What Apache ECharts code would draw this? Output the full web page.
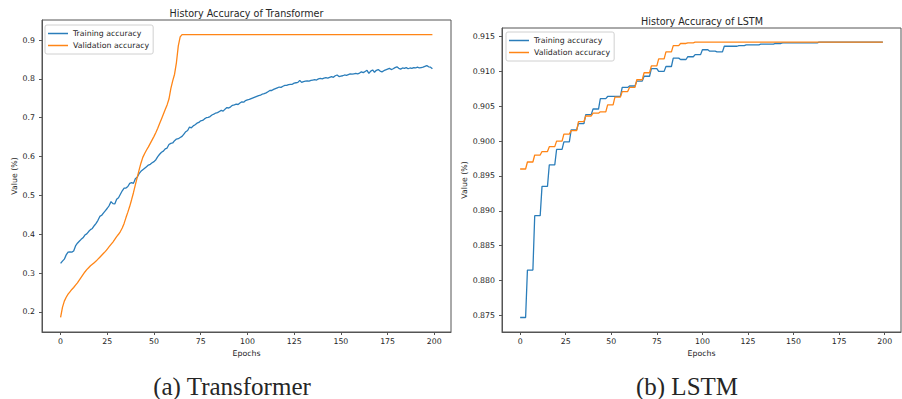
<!DOCTYPE html>
<html>
<head>
<meta charset="utf-8">
<script src="https://cdn.jsdelivr.net/npm/echarts@6/dist/echarts.min.js"></script>
<style>
html,body{margin:0;padding:0;background:#fff;}
#chart{width:902px;height:399px;}
</style>
</head>
<body>
<div id="chart"></div>
<script>
// ---------- data ----------
const xTicks = [0, 25, 50, 75, 100, 125, 150, 175, 200];
const yTicksTransformer = [0.2, 0.3, 0.4, 0.5, 0.6, 0.7, 0.8, 0.9];
const yTicksLSTM = [0.875, 0.880, 0.885, 0.890, 0.895, 0.900, 0.905, 0.910, 0.915];
const seriesNames = ['Training accuracy', 'Validation accuracy'];
const titles = ['History Accuracy of Transformer', 'History Accuracy of LSTM'];
const captions = ['(a) Transformer', '(b) LSTM'];

const transformerTrain = [
0.325,0.331,0.336,0.347,0.354,0.355,0.354,0.357,0.370,0.377,
0.382,0.387,0.391,0.398,0.401,0.407,0.412,0.415,0.422,0.428,
0.436,0.446,0.449,0.455,0.461,0.467,0.474,0.484,0.479,0.478,
0.490,0.494,0.503,0.512,0.519,0.519,0.523,0.531,0.533,0.531,
0.543,0.547,0.556,0.562,0.566,0.570,0.574,0.578,0.580,0.584,
0.587,0.592,0.600,0.606,0.611,0.614,0.620,0.622,0.631,0.634,
0.635,0.641,0.645,0.646,0.649,0.652,0.658,0.664,0.667,0.676,
0.674,0.679,0.682,0.686,0.688,0.692,0.693,0.697,0.700,0.701,
0.703,0.707,0.709,0.712,0.713,0.716,0.719,0.717,0.722,0.726,
0.725,0.728,0.732,0.733,0.735,0.734,0.738,0.741,0.740,0.744,
0.746,0.747,0.749,0.751,0.753,0.755,0.757,0.758,0.761,0.762,
0.764,0.767,0.770,0.770,0.773,0.775,0.777,0.779,0.778,0.781,
0.783,0.783,0.785,0.786,0.786,0.789,0.790,0.791,0.796,0.791,
0.793,0.794,0.795,0.794,0.796,0.797,0.798,0.797,0.800,0.801,
0.800,0.802,0.803,0.802,0.804,0.806,0.804,0.808,0.810,0.806,
0.807,0.808,0.810,0.809,0.811,0.813,0.812,0.813,0.814,0.813,
0.815,0.818,0.816,0.819,0.822,0.814,0.820,0.823,0.817,0.822,
0.824,0.820,0.818,0.821,0.823,0.825,0.827,0.824,0.826,0.829,
0.831,0.827,0.825,0.828,0.827,0.829,0.826,0.828,0.827,0.829,
0.828,0.830,0.828,0.829,0.830,0.832,0.834,0.831,0.830,0.826
];
const transformerVal = [
0.186,0.212,0.228,0.238,0.246,0.252,0.258,0.263,0.269,0.275,
0.282,0.289,0.296,0.303,0.309,0.314,0.319,0.323,0.327,0.331,
0.336,0.341,0.346,0.351,0.356,0.362,0.368,0.374,0.380,0.387,
0.394,0.400,0.407,0.416,0.428,0.443,0.457,0.472,0.489,0.507,
0.527,0.546,0.565,0.583,0.598,0.608,0.617,0.625,0.634,0.643,
0.652,0.662,0.673,0.685,0.697,0.709,0.721,0.733,0.748,0.775,
0.795,0.812,0.842,0.885,0.908,0.914,0.914,0.914,0.914,0.914,
0.914,0.914,0.914,0.914,0.914,0.914,0.914,0.914,0.914,0.914,
0.914,0.914,0.914,0.914,0.914,0.914,0.914,0.914,0.914,0.914,
0.914,0.914,0.914,0.914,0.914,0.914,0.914,0.914,0.914,0.914,
0.914,0.914,0.914,0.914,0.914,0.914,0.914,0.914,0.914,0.914,
0.914,0.914,0.914,0.914,0.914,0.914,0.914,0.914,0.914,0.914,
0.914,0.914,0.914,0.914,0.914,0.914,0.914,0.914,0.914,0.914,
0.914,0.914,0.914,0.914,0.914,0.914,0.914,0.914,0.914,0.914,
0.914,0.914,0.914,0.914,0.914,0.914,0.914,0.914,0.914,0.914,
0.914,0.914,0.914,0.914,0.914,0.914,0.914,0.914,0.914,0.914,
0.914,0.914,0.914,0.914,0.914,0.914,0.914,0.914,0.914,0.914,
0.914,0.914,0.914,0.914,0.914,0.914,0.914,0.914,0.914,0.914,
0.914,0.914,0.914,0.914,0.914,0.914,0.914,0.914,0.914,0.914,
0.914,0.914,0.914,0.914,0.914,0.914,0.914,0.914,0.914,0.914
];
const lstmTrain = [
0.8747,0.8747,0.8747,0.8747,0.8815,0.8815,0.8815,0.8815,0.8893,0.8893,0.8893,0.8893,0.8935,0.8935,0.8935,0.8935,0.8966,0.8966,0.8966,0.8966,
0.8988,0.8988,0.8988,0.8988,0.8999,0.8999,0.8999,0.8999,0.9016,0.9016,0.9016,0.9016,0.9025,0.9025,0.9025,0.9025,0.9038,0.9038,0.9038,0.9038,
0.9046,0.9046,0.9046,0.9046,0.9061,0.9061,0.9061,0.9061,0.9064,0.9064,0.9064,0.9064,0.9064,0.9064,0.9064,0.9064,0.9077,0.9077,0.9077,0.9077,
0.9079,0.9079,0.9079,0.9079,0.9086,0.9086,0.9086,0.9086,0.9093,0.9093,0.9093,0.9093,0.9104,0.9104,0.9104,0.9104,0.9100,0.9100,0.9100,0.9100,
0.9107,0.9107,0.9107,0.9107,0.9119,0.9119,0.9119,0.9119,0.9117,0.9117,0.9117,0.9117,0.9121,0.9121,0.9121,0.9121,0.9124,0.9124,0.9124,0.9124,
0.9131,0.9131,0.9131,0.9131,0.9129,0.9129,0.9129,0.9129,0.9128,0.9128,0.9128,0.9128,0.9136,0.9136,0.9136,0.9136,0.9136,0.9136,0.9136,0.9136,
0.9137,0.9137,0.9137,0.9137,0.9138,0.9138,0.9138,0.9138,0.9138,0.9138,0.9138,0.9138,0.9139,0.9139,0.9139,0.9139,0.9139,0.9139,0.9139,0.9139,
0.9140,0.9140,0.9140,0.9140,0.9141,0.9141,0.9141,0.9141,0.9141,0.9141,0.9141,0.9141,0.9141,0.9141,0.9141,0.9141,0.9141,0.9141,0.9141,0.9141,
0.9141,0.9141,0.9141,0.9141,0.9142,0.9142,0.9142,0.9142,0.9142,0.9142,0.9142,0.9142,0.9142,0.9142,0.9142,0.9142,0.9142,0.9142,0.9142,0.9142,
0.9142,0.9142,0.9142,0.9142,0.9142,0.9142,0.9142,0.9142,0.9142,0.9142,0.9142,0.9142,0.9142,0.9142,0.9142,0.9142,0.9142,0.9142,0.9142,0.9142
];
const lstmVal = [
0.8960,0.8960,0.8960,0.8960,0.8970,0.8970,0.8970,0.8970,0.8980,0.8980,0.8980,0.8980,0.8985,0.8985,0.8985,0.8985,0.8992,0.8992,0.8992,0.8992,
0.9000,0.9000,0.9000,0.9000,0.9010,0.9010,0.9010,0.9010,0.9015,0.9015,0.9015,0.9015,0.9028,0.9028,0.9028,0.9028,0.9036,0.9036,0.9036,0.9036,
0.9040,0.9040,0.9040,0.9040,0.9042,0.9042,0.9042,0.9042,0.9052,0.9052,0.9052,0.9052,0.9063,0.9063,0.9063,0.9063,0.9071,0.9071,0.9071,0.9071,
0.9077,0.9077,0.9077,0.9077,0.9088,0.9088,0.9088,0.9088,0.9098,0.9098,0.9098,0.9098,0.9108,0.9108,0.9108,0.9108,0.9118,0.9118,0.9118,0.9118,
0.9128,0.9128,0.9128,0.9128,0.9137,0.9137,0.9137,0.9137,0.9140,0.9140,0.9140,0.9140,0.9141,0.9141,0.9141,0.9141,0.9142,0.9142,0.9142,0.9142,
0.9142,0.9142,0.9142,0.9142,0.9142,0.9142,0.9142,0.9142,0.9142,0.9142,0.9142,0.9142,0.9142,0.9142,0.9142,0.9142,0.9142,0.9142,0.9142,0.9142,
0.9142,0.9142,0.9142,0.9142,0.9142,0.9142,0.9142,0.9142,0.9142,0.9142,0.9142,0.9142,0.9142,0.9142,0.9142,0.9142,0.9142,0.9142,0.9142,0.9142,
0.9142,0.9142,0.9142,0.9142,0.9142,0.9142,0.9142,0.9142,0.9142,0.9142,0.9142,0.9142,0.9142,0.9142,0.9142,0.9142,0.9142,0.9142,0.9142,0.9142,
0.9142,0.9142,0.9142,0.9142,0.9142,0.9142,0.9142,0.9142,0.9142,0.9142,0.9142,0.9142,0.9142,0.9142,0.9142,0.9142,0.9142,0.9142,0.9142,0.9142,
0.9142,0.9142,0.9142,0.9142,0.9142,0.9142,0.9142,0.9142,0.9142,0.9142,0.9142,0.9142,0.9142,0.9142,0.9142,0.9142,0.9142,0.9142,0.9142,0.9142
];

// ---------- chart ----------
const BLUE = '#2a7dba', ORANGE = '#ff8516';
const TXT = '#262626', SPINE = '#555';
const SANS = 'DejaVu Sans';
const SERIF = '"Liberation Serif", "DejaVu Serif", serif';
const pairs = arr => arr.map((v, i) => [i, v]);

function xAxisFor(grid) {
  return {
    type: 'value', gridIndex: grid, min: -9.95, max: 208.95,
    name: 'Epochs', nameLocation: 'middle', nameGap: 15,
    nameTextStyle: {fontFamily: SANS, fontSize: 7.8, color: TXT},
    axisLine: {show: true, onZero: false, lineStyle: {color: SPINE, width: 1}},
    axisTick: {show: true, length: 3, customValues: xTicks, lineStyle: {color: SPINE}},
    axisLabel: {customValues: xTicks, margin: 5, fontFamily: SANS, fontSize: 7.8, color: TXT},
    splitLine: {show: false}
  };
}
function yAxisFor(grid, ticks, lo, hi, dec, gap) {
  return {
    type: 'value', gridIndex: grid, min: lo, max: hi,
    name: 'Value (%)', nameLocation: 'middle', nameGap: gap,
    nameTextStyle: {fontFamily: SANS, fontSize: 7.8, color: TXT},
    axisLine: {show: true, onZero: false, lineStyle: {color: SPINE, width: 1}},
    axisTick: {show: true, length: 3, customValues: ticks, lineStyle: {color: SPINE}},
    axisLabel: {customValues: ticks, margin: 7, fontFamily: SANS, fontSize: 7.8, color: TXT,
      formatter: v => Number(v).toFixed(dec)},
    splitLine: {show: false}
  };
}
function legendAt(left, top) {
  return {
    orient: 'vertical', left: left, top: top, padding: [3, 4, 3, 3],
    itemWidth: 20, itemHeight: 1.5, icon: 'rect', itemGap: 1,
    borderColor: '#d0d0d0', borderWidth: 1, borderRadius: 2, backgroundColor: '#fff',
    textStyle: {fontFamily: SANS, fontSize: 7.8, color: TXT, lineHeight: 11},
    data: seriesNames, selectedMode: false
  };
}
function lineSeries(name, data, color, xi, yi) {
  return {
    name: name, type: 'line', xAxisIndex: xi, yAxisIndex: yi, data: pairs(data),
    showSymbol: false, symbol: 'none', color: color,
    lineStyle: {color: color, width: 1.3}, silent: true, animation: false
  };
}
function txt(x, y, text, size, family) {
  return {type: 'text', x: x, y: y, silent: true,
    style: {text: text, fontSize: size, fontFamily: family, fill: TXT, align: 'center', verticalAlign: 'middle'}};
}

const chart = echarts.init(document.getElementById('chart'), null, {renderer: 'svg'});
chart.setOption({
  animation: false,
  backgroundColor: '#fff',
  grid: [
    {left: 42, top: 20, width: 409, height: 312, show: true, borderColor: SPINE, borderWidth: 1, backgroundColor: 'transparent'},
    {left: 502, top: 28, width: 399, height: 304, show: true, borderColor: SPINE, borderWidth: 1, backgroundColor: 'transparent'}
  ],
  xAxis: [xAxisFor(0), xAxisFor(1)],
  yAxis: [
    yAxisFor(0, yTicksTransformer, 0.1485, 0.9515, 1, 22),
    yAxisFor(1, yTicksLSTM, 0.87262, 0.91622, 3, 32)
  ],
  legend: [legendAt(45, 25), legendAt(506, 32)],
  series: [
    lineSeries(seriesNames[0], transformerTrain, BLUE, 0, 0),
    lineSeries(seriesNames[1], transformerVal, ORANGE, 0, 0),
    lineSeries(seriesNames[0], lstmTrain, BLUE, 1, 1),
    lineSeries(seriesNames[1], lstmVal, ORANGE, 1, 1)
  ],
  graphic: [
    txt(246.5, 13, titles[0], 9.6, SANS),
    txt(702, 21, titles[1], 9.6, SANS),
    txt(232, 386, captions[0], 25, SERIF),
    txt(687, 386, captions[1], 25, SERIF)
  ]
});
</script>
</body>
</html>
